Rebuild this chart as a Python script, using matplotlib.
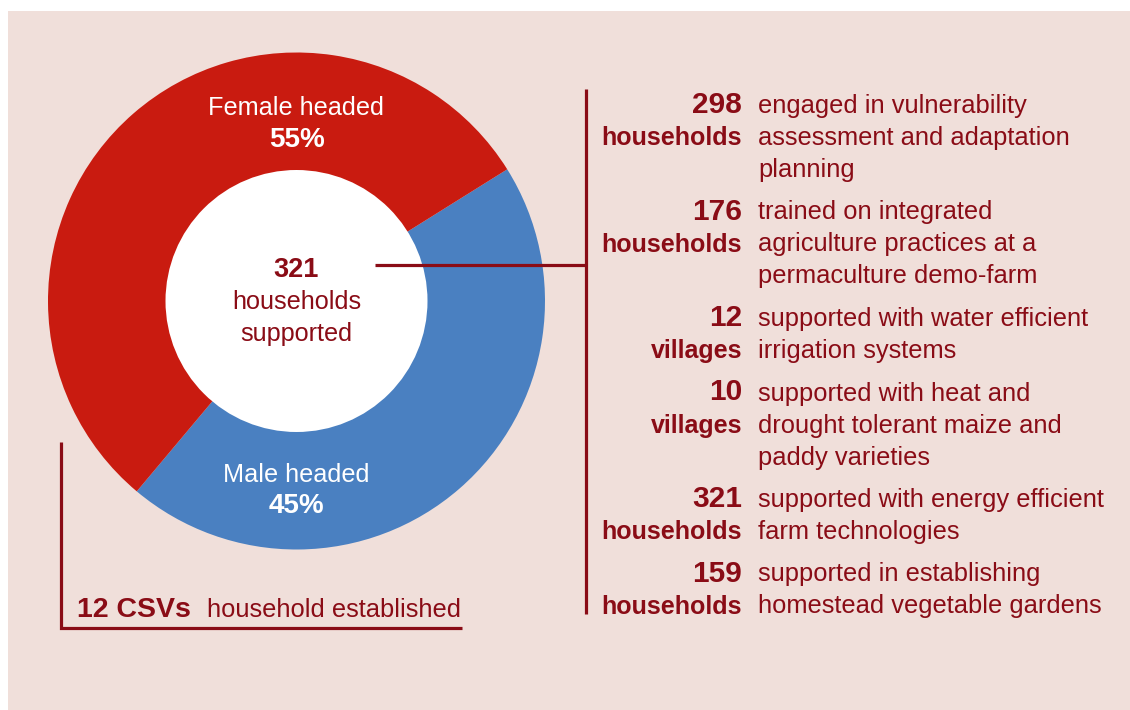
import matplotlib.pyplot as plt
from matplotlib.patches import Circle, Rectangle

plt.rcParams['font.family'] = ['Liberation Sans', 'DejaVu Sans']

# data
shares = [45, 55]
share_names = ['Male headed', 'Female headed']
total_households = 321
csv_count = 12

stat_numbers = ['298', '176', '12', '10', '321', '159']
stat_units = ['households', 'households', 'villages', 'villages', 'households', 'households']
stat_text = [
    ['engaged in vulnerability', 'assessment and adaptation', 'planning'],
    ['trained on integrated', 'agriculture practices at a', 'permaculture demo-farm'],
    ['supported with water efficient', 'irrigation systems'],
    ['supported with heat and', 'drought tolerant maize and', 'paddy varieties'],
    ['supported with energy efficient', 'farm technologies'],
    ['supported in establishing', 'homestead vegetable gardens'],
]

# colours
RED = '#c91b10'
BLUE = '#4a80c1'
BG = '#f0dfda'
DARK = '#8a0c16'

W, H = 1130, 710
def Y(y):
    return H - y

fig = plt.figure(figsize=(W / 100, H / 100), dpi=100, facecolor='white')
ax = fig.add_axes([0, 0, 1, 1])

ax.add_patch(Rectangle((8, 0), W - 8, H - 11, facecolor=BG, edgecolor='none', zorder=0))

# donut
cx, cy, R, r_in = 296.5, Y(301), 248.5, 131
ax.pie(shares, colors=[BLUE, RED], startangle=32, counterclock=False,
       center=(cx, cy), radius=R, frame=True,
       wedgeprops=dict(linewidth=0, zorder=1))
ax.set_xlim(0, W)
ax.set_ylim(0, H)
ax.axis('off')
ax.add_patch(Circle((cx, cy), r_in, facecolor='white', edgecolor='none', zorder=2))

# slice labels
ax.text(cx, Y(115), share_names[1], color='white', fontsize=18.2, ha='center', va='baseline', zorder=3)
ax.text(cx, Y(147), f'{shares[1]}%', color='white', fontsize=20, fontweight='bold', ha='center', va='baseline', zorder=3)
ax.text(cx, Y(482), share_names[0], color='white', fontsize=18.2, ha='center', va='baseline', zorder=3)
ax.text(cx, Y(513), f'{shares[0]}%', color='white', fontsize=20, fontweight='bold', ha='center', va='baseline', zorder=3)

# centre
ax.text(cx, Y(277), str(total_households), color=DARK, fontsize=19.5, fontweight='bold', ha='center', va='baseline', zorder=3)
ax.text(cx, Y(309), 'households', color=DARK, fontsize=18.2, ha='center', va='baseline', zorder=3)
ax.text(cx, Y(341), 'supported', color=DARK, fontsize=18.2, ha='center', va='baseline', zorder=3)

# connector lines
lw = 2.3
ax.plot([375, 586], [Y(265), Y(265)], color=DARK, lw=lw, solid_capstyle='butt', zorder=4)
ax.plot([586, 586], [Y(89), Y(614)], color=DARK, lw=lw, solid_capstyle='butt', zorder=4)
ax.plot([61, 61, 462], [Y(442), Y(628), Y(628)], color=DARK, lw=lw, solid_capstyle='butt',
        solid_joinstyle='miter', zorder=4)

# CSV label
ax.text(77, Y(617), f'{csv_count} CSVs', color=DARK, fontsize=20.5, fontweight='bold', ha='left', va='baseline')
ax.text(207, Y(617), 'household established', color=DARK, fontsize=18.4, ha='left', va='baseline')

# stats list
base = 113
for num, unit, lines in zip(stat_numbers, stat_units, stat_text):
    ax.text(742, Y(base), num, color=DARK, fontsize=21.5, fontweight='bold', ha='right', va='baseline')
    ax.text(742, Y(base + 32), unit, color=DARK, fontsize=18, fontweight='bold', ha='right', va='baseline')
    for i, line in enumerate(lines):
        ax.text(758, Y(base + 32 * i), line, color=DARK, fontsize=18.4, ha='left', va='baseline')
    base += 32 * len(lines) + 10.5

fig.savefig('out.png', dpi=100, facecolor='white')
